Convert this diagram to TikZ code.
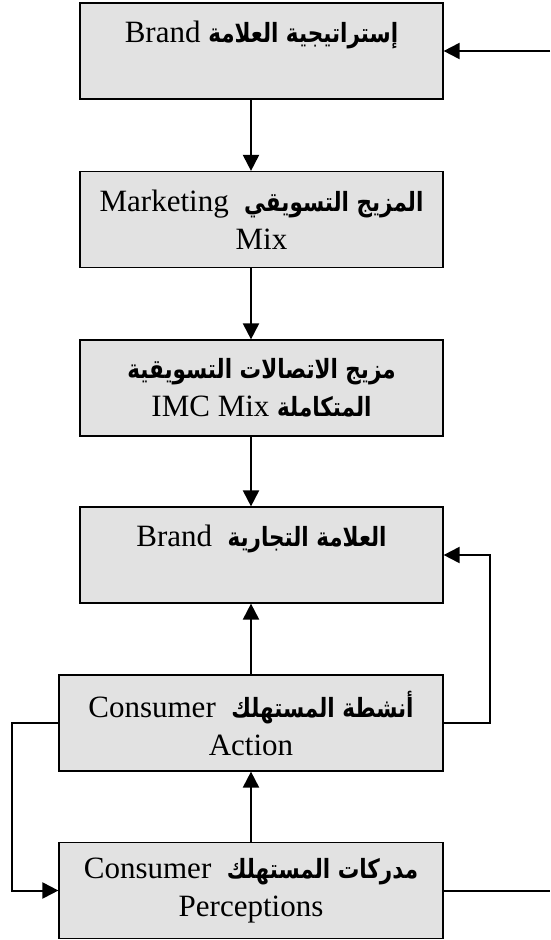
\documentclass[tikz,border=0pt]{standalone}
\usepackage{fontspec}
\setmainfont{Liberation Serif}
\newfontfamily\arabicfont[Script=Arabic]{DejaVu Sans}
\TeXXeTstate=1
\usetikzlibrary{arrows.meta}
\definecolor{boxfill}{HTML}{E2E2E2}
\newcommand{\ar}[1]{\scalebox{0.86}[1.06]{\arabicfont\bfseries\fontsize{25}{38}\selectfont\beginR #1\endR}}
\begin{document}
\begin{tikzpicture}[x=1pt,y=-1pt,
  box/.style={draw=black, line width=1.2pt, fill=boxfill, inner sep=0pt,
    align=center, minimum height=96pt,
    font=\fontsize{31}{38}\selectfont},
  narrowbox/.style={box, minimum width=363pt},
  widebox/.style={box, minimum width=384pt},
  conn/.style={line width=2pt},
  arr/.style={conn, -{Triangle[length=16pt,width=16pt]}}]
\useasboundingbox (0,0) rectangle (550,940);
\node[narrowbox] (b1) at (261.5,51) {Brand \ar{إستراتيجية العلامة}\\ \mbox{}};
\node[narrowbox] (b2) at (261.5,219.5) {Marketing\ \ \ar{المزيج التسويقي}\\ Mix};
\node[narrowbox] (b3) at (261.5,388) {\ar{مزيج الاتصالات التسويقية}\\ IMC Mix \ar{المتكاملة}};
\node[narrowbox] (b4) at (261.5,555) {Brand\ \ \ar{العلامة التجارية}\\ \mbox{}};
\node[widebox] (b5) at (251,723) {Consumer\ \ \ar{أنشطة المستهلك}\\ Action};
\node[widebox] (b6) at (251,890.5) {Consumer\ \ \ar{مدركات المستهلك}\\ Perceptions};
\coordinate (inR) at (550,51);
\coordinate (outR) at (550,890.5);
\draw[arr] (b1.south -| b5) -- (b2.north -| b5);
\draw[arr] (b2.south -| b5) -- (b3.north -| b5);
\draw[arr] (b3.south -| b5) -- (b4.north -| b5);
\draw[arr] (b5.north) -- (b4.south -| b5);
\draw[arr] (b6.north) -- (b5.south);
\draw[arr] (inR) -- (b1.east);
\draw[arr] (b5.east) -| (490,600) |- (b4.east);
\draw[arr] (b5.west) -| (12,800) |- (b6.west);
\draw[conn] (b6.east) -- (outR);
\end{tikzpicture}
\end{document}
